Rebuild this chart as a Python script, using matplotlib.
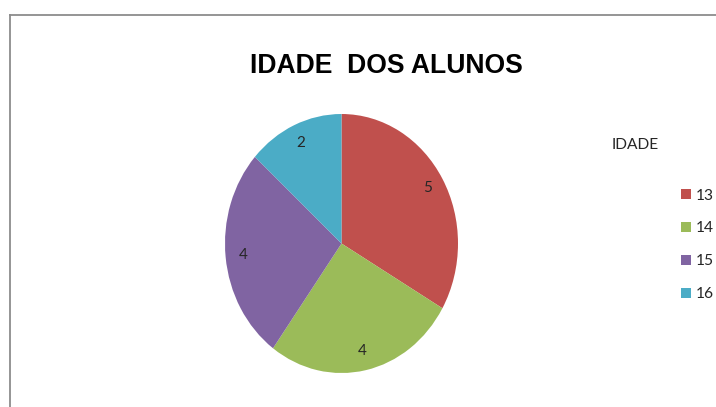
import matplotlib.pyplot as plt
from matplotlib.lines import Line2D

idades = ["13", "14", "15", "16"]
alunos = [5, 4, 4, 2]
cores = ["#C0504D", "#9BBB59", "#8064A2", "#4BACC6"]

W, H = 716, 407
fig = plt.figure(figsize=(W / 100, H / 100), dpi=100)
fig.patch.set_facecolor("white")

# chart area border (only top and left visible in the crop)
fig.add_artist(Line2D([9.5 / W, 9.5 / W], [0, 1 - 14.5 / H], color="#8c8c8c", lw=1.3))
fig.add_artist(Line2D([9.5 / W, 1], [1 - 14.5 / H, 1 - 14.5 / H], color="#8c8c8c", lw=1.3))

# pie is a bit stretched vertically in the reference: rx 116.5, ry 129.5 px
rx, ry = 116.5, 129.5
cx, cy = 341.5, 243.5
ax = fig.add_axes([(cx - rx) / W, (H - cy - ry) / H, 2 * rx / W, 2 * ry / H])
wedges, _, autotexts = ax.pie(
    alunos,
    colors=cores,
    startangle=90,
    counterclock=False,
    autopct=lambda p: f"{round(p * sum(alunos) / 100):d}",
    pctdistance=0.85,
    textprops=dict(fontsize=11, color="#262626", family="Lato"),
)
ax.set_xlim(-1, 1)
ax.set_ylim(-1, 1)
ax.set_aspect("auto")
for w in wedges:
    w.set_clip_on(False)

fig.text(386 / W, 1 - 66 / H, "IDADE  DOS ALUNOS", ha="center", va="center",
         fontsize=19.1, fontweight="bold", family="Liberation Sans")

fig.text(612 / W, 1 - 145 / H, "IDADE", ha="left", va="center",
         fontsize=11.2, family="Lato", color="#262626")

leg = fig.legend(
    wedges, idades,
    loc="upper left",
    bbox_to_anchor=(681 / W, 1 - 188.5 / H),
    frameon=False,
    borderpad=0,
    borderaxespad=0,
    handlelength=0.62,
    handleheight=0.62,
    handletextpad=0.3,
    labelspacing=1.22,
    prop=dict(family="Lato", size=11.2),
)
for t in leg.get_texts():
    t.set_color("#262626")

fig.savefig("out.png", dpi=100)
